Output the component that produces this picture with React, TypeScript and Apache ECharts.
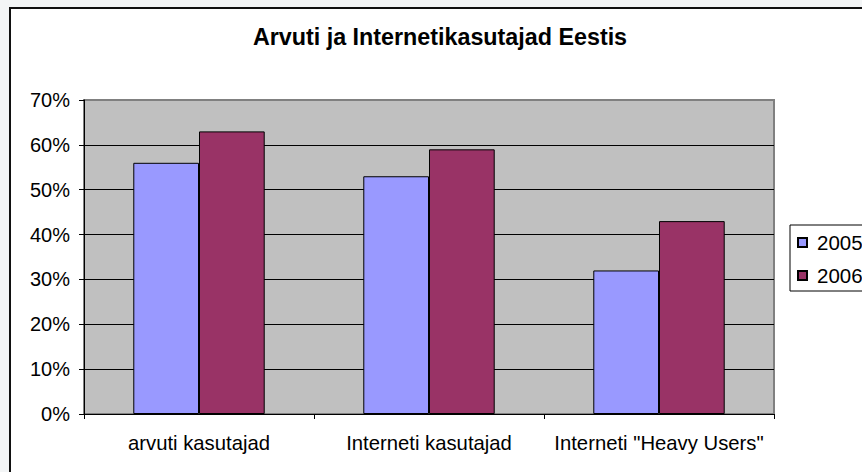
import React, { useEffect, useRef } from "react";
import * as echarts from "echarts";

const categories = ["arvuti kasutajad", "Interneti kasutajad", 'Interneti "Heavy Users"'];
const seriesNames = ["2005", "2006"];
const values2005 = [56, 53, 32];
const values2006 = [63, 59, 43];
const yTicks = { min: 0, max: 70, interval: 10 };
const titleText = "Arvuti ja Internetikasutajad Eestis";

const FONT = "'Liberation Sans', Arial, sans-serif";

export default function App() {
  const ref = useRef<HTMLDivElement>(null);
  useEffect(() => {
    document.body.style.margin = "0";
    document.body.style.background = "#f3f5f6";
    document.body.style.overflow = "hidden";
    const chart = echarts.init(ref.current!, null, { renderer: "svg" });
    chart.setOption({
      animation: false,
      backgroundColor: "#ffffff",
      textStyle: { fontFamily: FONT },
      graphic: [
        {
          type: "text",
          x: 429,
          y: 28,
          style: {
            text: titleText,
            fontFamily: FONT,
            fontSize: 23.3,
            fontWeight: "bold",
            fill: "#000",
            textAlign: "center",
            textVerticalAlign: "middle",
          },
        },
      ],
      grid: {
        left: 73,
        top: 91,
        right: 88,
        bottom: 58,
        show: true,
        backgroundColor: "#c0c0c0",
        borderColor: "#808080",
        borderWidth: 2,
      },
      legend: {
        orient: "vertical",
        left: 779,
        top: 216,
        data: seriesNames,
        backgroundColor: "#fff",
        borderColor: "#000",
        borderWidth: 1,
        borderRadius: 0,
        padding: [7, 20, 5, 7],
        itemWidth: 9,
        itemHeight: 9,
        itemGap: 12,
        icon: "rect",
        textStyle: { fontFamily: FONT, fontSize: 20.5, color: "#000", padding: [0, 0, 0, 5] },
      },
      xAxis: {
        type: "category",
        data: categories,
        axisLine: { show: true, lineStyle: { color: "#000", width: 1 } },
        axisTick: { show: true, length: 5, lineStyle: { color: "#000" } },
        axisLabel: { fontFamily: FONT, fontSize: 20.3, color: "#000", margin: 19, interval: 0 },
      },
      yAxis: {
        type: "value",
        min: yTicks.min,
        max: yTicks.max,
        interval: yTicks.interval,
        axisLine: { show: true, lineStyle: { color: "#000", width: 1 } },
        axisTick: { show: true, length: 5, lineStyle: { color: "#000" } },
        axisLabel: {
          fontFamily: FONT,
          fontSize: 20,
          color: "#000",
          margin: 14,
          formatter: (v: number) => v + "%",
        },
        splitLine: {
          show: true,
          lineStyle: {
            color: ["#000", "#000", "#000", "#000", "#000", "#000", "#000", "#808080"],
            width: 1,
          },
        },
      },
      series: [
        {
          name: seriesNames[0],
          type: "bar",
          data: values2005,
          barGap: "0%",
          barCategoryGap: "42.86%",
          itemStyle: { color: "#9999ff", borderColor: "#000", borderWidth: 1 },
        },
        {
          name: seriesNames[1],
          type: "bar",
          data: values2006,
          barGap: "0%",
          barCategoryGap: "42.86%",
          itemStyle: { color: "#993366", borderColor: "#000", borderWidth: 1 },
        },
      ],
    });
    return () => chart.dispose();
  }, []);
  return (
    <div
      style={{
        position: "absolute",
        left: 9,
        top: 7,
        borderLeft: "2px solid #111",
        borderTop: "2px solid #111",
        background: "#fff",
      }}
    >
      <div ref={ref} style={{ width: 851, height: 463 }} />
    </div>
  );
}
